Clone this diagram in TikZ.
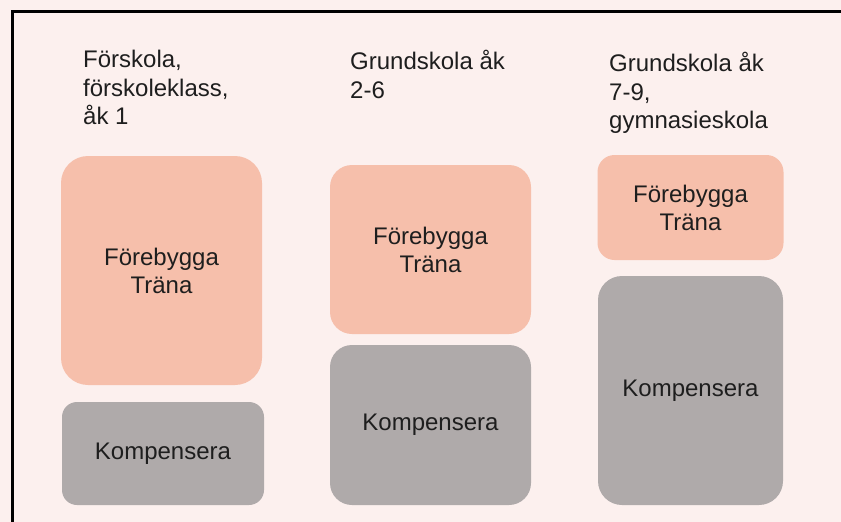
\documentclass[tikz,border=0pt]{standalone}
\usepackage{fontspec}
\setmainfont{Liberation Sans}
\definecolor{bgpink}{HTML}{FCF0EE}
\definecolor{salmon}{HTML}{F6BFAB}
\definecolor{greybox}{HTML}{AFAAAA}
\definecolor{txt}{HTML}{1E1E1E}
\begin{document}
\begin{tikzpicture}[x=1pt,y=-1pt,
  heading/.style={anchor=north west,inner sep=0pt,align=left,text=txt,font=\fontsize{24}{28.5}\selectfont},
  boxbase/.style={rectangle,inner sep=0pt,align=center,text=txt,font=\fontsize{24}{28}\selectfont},
  salmonbox/.style={boxbase,fill=salmon},
  greybx/.style={boxbase,fill=greybox}]
\fill[bgpink] (0,0) rectangle (841,522);
\useasboundingbox (0,0) rectangle (841,522);
\draw[line width=3pt,black] (12,522) -- (12,11) -- (841,11);

% headings
\node[heading] (h1) at (83,50) {Förskola,\\förskoleklass,\\åk 1};
\node[heading] (h2) at (350,50) {Grundskola åk\\2-6};
\node[heading] (h3) at (609,52) {Grundskola åk\\7-9,\\gymnasieskola};

% column 1
\node[salmonbox,rounded corners=27pt,minimum width=201pt,minimum height=229pt] (f1) at (161.5,270.5) {Förebygga\\Träna};
\node[greybx,rounded corners=15pt,minimum width=202pt,minimum height=103pt] (k1) at (163,453.5) {Kompensera};

% column 2
\node[salmonbox,rounded corners=22pt,minimum width=201pt,minimum height=169pt] (f2) at (430.5,249.5) {Förebygga\\Träna};
\node[greybx,rounded corners=22pt,minimum width=201pt,minimum height=160pt] (k2) at (430.5,425) {Kompensera};

% column 3
\node[salmonbox,rounded corners=17pt,minimum width=186pt,minimum height=105pt] (f3) at (690.5,207.5) {Förebygga\\Träna};
\node[greybx,rounded corners=24pt,minimum width=185pt,minimum height=229pt] (k3) at (690.5,390.5) {Kompensera};
\end{tikzpicture}
\end{document}
